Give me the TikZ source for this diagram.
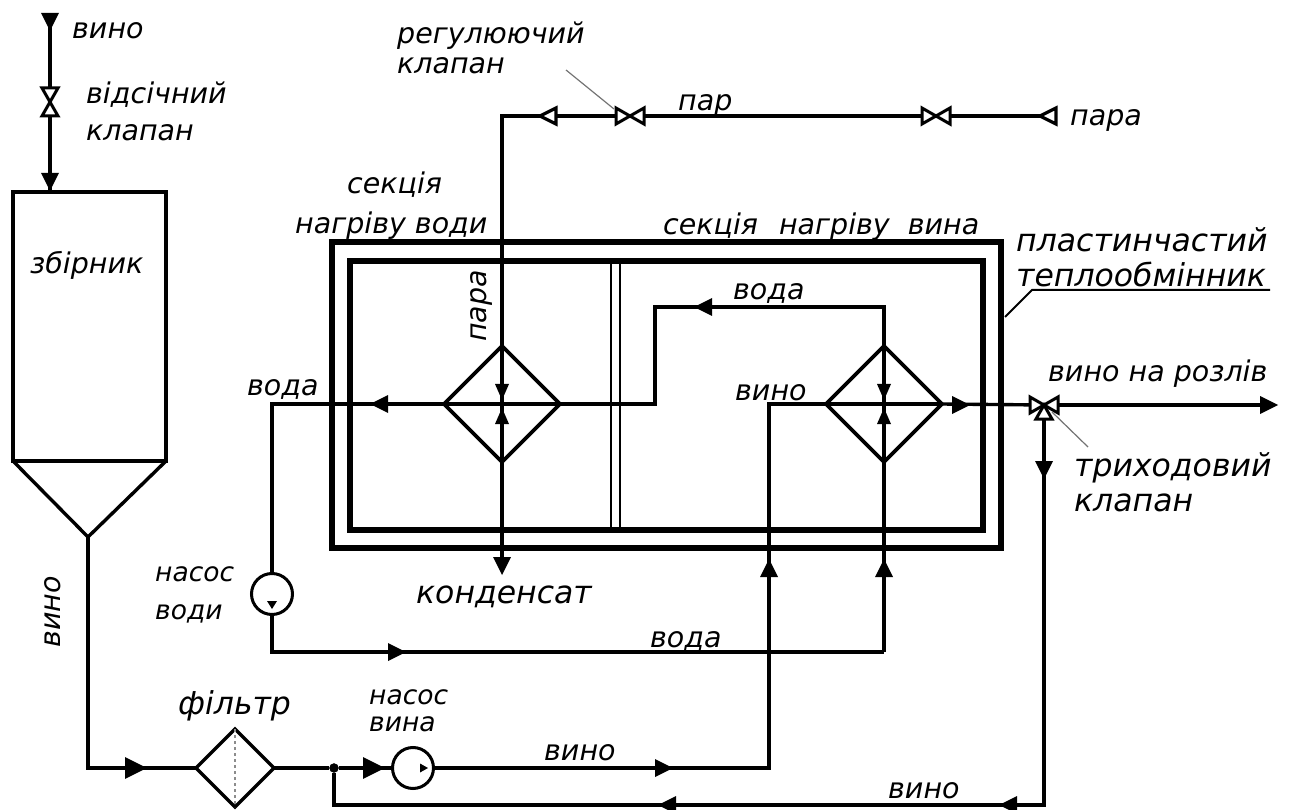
\documentclass[tikz,border=0pt]{standalone}
\usepackage{fontspec}
\setmainfont{DejaVu Sans}
\usetikzlibrary{shapes.geometric}
\tikzset{
    pipe/.style={line width=3.4pt},
    pt/.style={inner sep=0pt, minimum size=0pt},
    hx/.style={draw, shape=diamond, line width=3.6pt, inner sep=0pt, outer sep=0pt, minimum width=116pt, minimum height=116pt},
    lbl/.style={font=\fontsize{28.5}{30}\selectfont\itshape, align=left, inner sep=0pt, anchor=west},
    lblsmall/.style={lbl, font=\fontsize{26.5}{30}\selectfont\itshape},
    lblbig/.style={lbl, font=\fontsize{31.5}{34}\selectfont\itshape},
    leader/.style={draw=black!55, line width=1.2pt},
    fillarrow/.pic={\fill (9,0) -- (-9,-9) -- (-9,9) -- cycle;},
    smallarrow/.pic={\fill (8,0) -- (-8,-7) -- (-8,7) -- cycle;},
    openarrow/.pic={\draw[line width=3.2pt, fill=white, line join=miter] (-8,0) -- (8,-8) -- (8,8) -- cycle;},
    halfvalve/.pic={\draw[line width=3pt, fill=white] (0,0) -- (-14,-8) -- (-14,8) -- cycle;},
}
\begin{document}
\begin{tikzpicture}[x=1pt,y=-1pt]
    \useasboundingbox (0,0) rectangle (1291,810);
    % tank and frames
    \node[pt] (tanktop) at (50,192) {};
    \draw[line width=3.4pt] (13,192) rectangle (166,461);
    \draw[line width=3.4pt] (13,461) -- (88,537) -- (166,461);
    \node[pt] (tankout) at (88,537) {};
    \draw[line width=5.5pt] (332,242) rectangle (1001,548);
    \draw[line width=6.5pt] (350,261) rectangle (983,530);
    \draw[line width=2.2pt] (611,261) -- (611,530);
    \draw[line width=2.2pt] (620,261) -- (620,530);

    % equipment
    \node[hx] (hxwater) at (502,404) {};
    \node[hx] (hxwine) at (884,404) {};
    \node[draw, shape=diamond, line width=3.4pt, inner sep=0pt, outer sep=0pt, minimum width=78pt, minimum height=78pt] (filter) at (235,768) {};
    \draw[black!45, dashed, line width=1.4pt] (filter.north) -- (filter.south);
    \node[draw, circle, line width=3pt, minimum size=41pt, inner sep=0pt] (pumpwine) at (413,768) {};
    \node[draw, circle, line width=3pt, minimum size=41pt, inner sep=0pt] (pumpwater) at (272,594) {};
    \fill (420,763.5) -- (428,768) -- (420,772.5) -- cycle;
    \fill (267,601) -- (277,601) -- (272,609) -- cycle;

    % junctions
    \node[pt] (winein) at (50,14) {};
    \node[pt] (vshut) at (50,102) {};
    \node[pt] (vreg) at (630,116) {};
    \node[pt] (vsteam) at (936,116) {};
    \node[pt] (steamin) at (1056,116) {};
    \node[pt] (vthree) at (1044,405) {};
    \node[pt] (bottling) at (1270,405) {};
    \node[pt] (condensate) at (502,565) {};
    \node[draw, fill, circle, inner sep=0pt, minimum size=9pt] (tee) at (334,768) {};
    \node[pt] (joinwater) at (884,652) {};

    % pipes
    \draw[pipe] (winein) -- (vshut);
    \draw[pipe] (vshut) -- (tanktop);
    \draw[pipe] (tankout) |- (filter.west);
    \draw[pipe] (filter.east) -- (tee);
    \draw[pipe] (tee) -- (pumpwine);
    \draw[pipe] (pumpwine.east) -| (769,548);
    \draw[pipe] (769,548) |- (hxwine.west);
    \draw[pipe] (tee) |- (1044,805) -- (vthree);
    \draw[pipe] (hxwine.east) -- (vthree);
    \draw[pipe] (vthree) -- (bottling);
    \draw[pipe] (steamin) -- (vsteam);
    \draw[pipe] (vsteam) -- (vreg);
    \draw[pipe] (vreg) -| (hxwater.north);
    \draw[pipe] (hxwater.north) -- (hxwater.south);
    \draw[pipe] (hxwater.south) -- (condensate);
    \draw[pipe] (hxwine.north) -- (hxwine.south);
    \draw[pipe] (hxwine.north) |- (655,307) |- (hxwater.east);
    \draw[pipe] (hxwater.east) -- (hxwater.west);
    \draw[pipe] (hxwater.west) -| (pumpwater.north);
    \draw[pipe] (pumpwater.south) |- (joinwater);
    \draw[pipe] (joinwater) -- (hxwine.south);
    \draw[pipe] (hxwine.west) -- (hxwine.east);

    % valves
    \path (vshut) pic[rotate=90] {halfvalve} pic[rotate=-90] {halfvalve};
    \path (vreg) pic {halfvalve} pic[rotate=180] {halfvalve};
    \path (vsteam) pic {halfvalve} pic[rotate=180] {halfvalve};
    \path (vthree) pic {halfvalve} pic[rotate=180] {halfvalve} pic[rotate=90] {halfvalve};

    % arrowheads
    \path (50,22) pic[rotate=-90] {fillarrow};
    \path (50,182) pic[rotate=-90] {fillarrow};
    \path (136,768) pic[scale=1.2] {fillarrow};
    \path (374,768) pic[scale=1.2] {fillarrow};
    \path (664,768) pic {fillarrow};
    \path (667,805) pic[rotate=180] {fillarrow};
    \path (1008,805) pic[rotate=180] {fillarrow};
    \path (1044,470) pic[rotate=-90] {fillarrow};
    \path (769,568) pic[rotate=90] {fillarrow};
    \path (884,568) pic[rotate=90] {fillarrow};
    \path (397,652) pic {fillarrow};
    \path (379,404) pic[rotate=180] {fillarrow};
    \path (703,307) pic[rotate=180] {fillarrow};
    \path (961,405) pic {fillarrow};
    \path (1269,405) pic {fillarrow};
    \path (502,566) pic[rotate=-90] {fillarrow};
    \path (502,392) pic[rotate=-90] {smallarrow};
    \path (502,416) pic[rotate=90] {smallarrow};
    \path (884,392) pic[rotate=-90] {smallarrow};
    \path (884,416) pic[rotate=90] {smallarrow};
    \path (548,116) pic {openarrow};
    \path (1048,116) pic {openarrow};

    % leaders
    \draw[leader] (566,70) -- (614,109);
    \draw[leader] (1052,412) -- (1088,447);
    \draw[line width=2pt] (1005,317) -- (1032,290) -- (1270,290);

    % labels
    \node[lbl] (lwinetop) at (72,31) {вино};
    \node[lbl] (lshut) at (86,111) {відсічний\\[7pt]клапан};
    \node[lbl] (ltank) at (30,265) {збірник};
    \node[lbl] (lreg) at (397,48) {регулюючий\\клапан};
    \node[lbl] (lsteam) at (678,105) {пар};
    \node[lbl] (lsteamin) at (1070,120) {пара};
    \node[lbl] (lsecwater) at (295,206) {\hspace*{52pt}секція\\[10pt]нагріву води};
    \node[lbl] (lsecwine) at (663,227) {секція\hspace{21pt}нагріву\hspace{18pt}вина};
    \node[lblbig] (lhx) at (1016,257) {пластинчастий\\[1pt]теплообмінник};
    \node[lbl] (lwater1) at (733,293) {вода};
    \node[lbl] (lwater2) at (247,389) {вода};
    \node[lbl] (lwine1) at (735,393) {вино};
    \node[lbl] (lbottling) at (1048,374) {вино на розлів};
    \node[lblbig] (lthree) at (1074,482) {триходовий\\[1pt]клапан};
    \node[lbl, anchor=center, rotate=90] (lsteamv) at (481,306) {пара};
    \node[lbl, anchor=center, rotate=90] (lwinev) at (53,612) {вино};
    \node[lblbig] (lcond) at (416,597) {конденсат};
    \node[lblsmall] (lpumpwater) at (155,595) {насос\\[8pt]води};
    \node[lbl] (lwater3) at (650,641) {вода};
    \node[lblbig] (lfilter) at (178,706) {фільтр};
    \node[lblsmall] (lpumpwine) at (369,711) {насос\\[-3pt]вина};
    \node[lbl] (lwine2) at (544,753) {вино};
    \node[lbl] (lwine3) at (888,791) {вино};
\end{tikzpicture}
\end{document}
